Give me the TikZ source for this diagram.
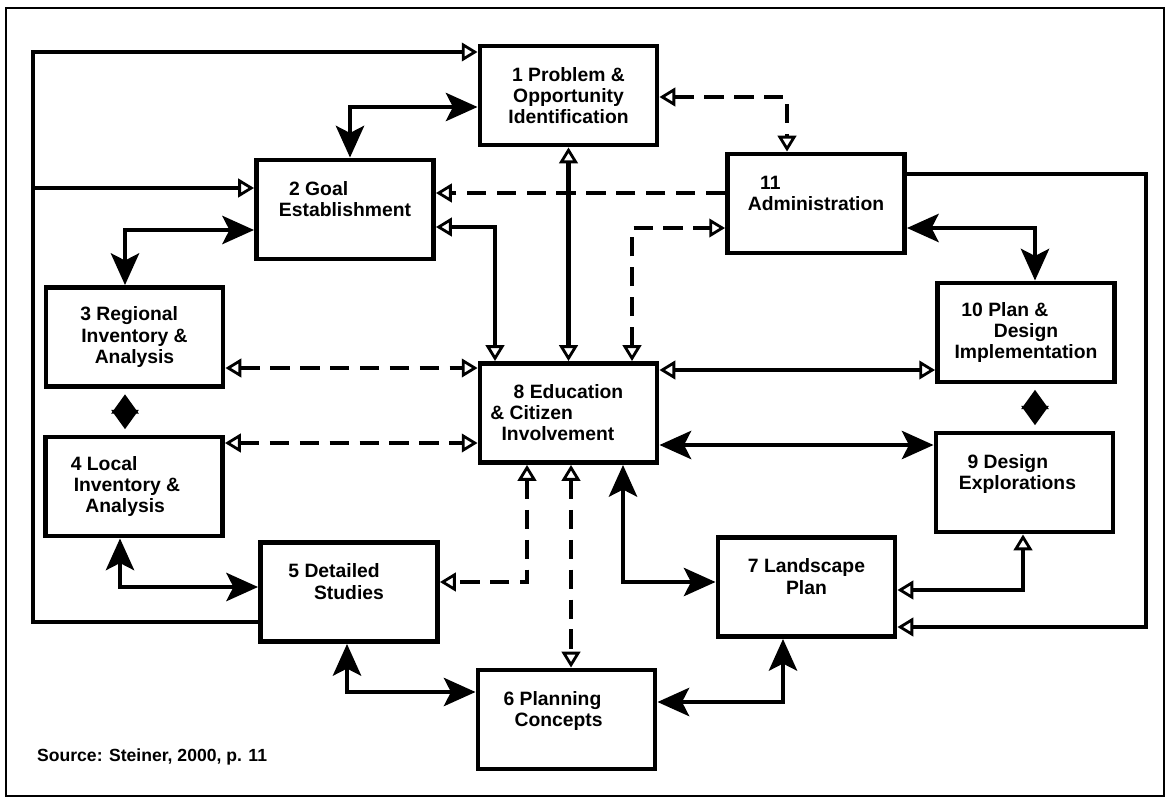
\documentclass[tikz,border=0pt]{standalone}
\usepackage{fontspec}
\setmainfont{Liberation Sans}
\usepackage{tikz}
\usetikzlibrary{arrows.meta}

\newcommand{\lline}[2]{\hbox{#2\hskip #1}}

\tikzset{
  Hol/.tip={Triangle[open, length=9pt, width=10.5pt, line width=1.6pt]},
  Fat/.tip={Stealth[length=18pt, width=16pt, inset=4pt]},
  Dia/.tip={Triangle[length=11pt, width=15pt]}
}

\begin{document}
\begin{tikzpicture}[x=0.02cm, y=-0.02cm,
  stage/.style={draw, line width=2.8pt, minimum width=3.54cm, minimum height=1.98cm,
    inner sep=0pt, align=center, font=\fontsize{11}{12}\selectfont\bfseries},
  link/.style={line width=2.6pt},
  hollow both/.style={link, Hol-Hol},
  heavy both/.style={link, Fat-Fat},
  dashed both/.style={link, dash pattern=on 11pt off 6pt, Hol-Hol},
  diam/.style={link, Dia-Dia, shorten <=3pt, shorten >=3pt}]
  \useasboundingbox (0,0) rectangle (1169,801);
  \draw [line width=1.6pt] (6,8) rectangle (1164,796);

  % Stages
  \node[stage] (b1) at (568.5,95.5) {1 Problem \&\\Opportunity\\Identification};
  \node[stage] (b2) at (345,209.5) {\lline{30pt}{2 Goal}\\Establishment\\ \mbox{}};
  \node[stage] (b11) at (816,203.5) {\lline{52pt}{11}\\Administration\\ \mbox{}};
  \node[stage] (b3) at (134.5,337) {\lline{6pt}{3 Regional}\\Inventory \&\\Analysis};
  \node[stage] (b4) at (134,486.5) {\lline{34pt}{4 Local}\\\lline{8pt}{Inventory \&}\\\lline{10pt}{Analysis}};
  \node[stage] (b8) at (568.5,413) {8 Education\\\lline{42pt}{\& Citizen}\\\lline{12pt}{Involvement}};
  \node[stage] (b10) at (1026,332.5) {\lline{24pt}{10 Plan \&}\\Design\\Implementation};
  \node[stage] (b9) at (1024.5,482.5) {\lline{19pt}{9 Design}\\\lline{8pt}{Explorations}\\ \mbox{}};
  \node[stage] (b5) at (349,592) {\lline{17pt}{5 Detailed}\\Studies\\ \mbox{}};
  \node[stage] (b7) at (806.5,587) {7 Landscape\\Plan\\ \mbox{}};
  \node[stage] (b6) at (566.5,719.5) {\lline{16pt}{6 Planning}\\\lline{9pt}{Concepts}\\ \mbox{}};

  \node[anchor=west, font=\fontsize{10}{12}\selectfont\bfseries] (src) at (31,757) {Source: Steiner, 2000, p. 11};

  % Left loop
  \coordinate (w1) at (33,622);
  \coordinate (w2) at (33,52);
  \coordinate (w3) at (33,188);
  \draw [link, -Hol] (b5.west |- w1) -- (w1) -- (w2) -- (b1.west |- w2);
  \draw [link, -Hol] (w3) -- (b2.west |- w3);

  % Top
  \coordinate (k12) at (350,107);
  \coordinate (k23) at (125,230);
  \coordinate (k112) at (0,193);
  \coordinate (k28) at (495,227);
  \coordinate (k811) at (632,228);
  \coordinate (k111) at (787,97);
  \draw [heavy both] (b2.north -| k12) |- (b1.west |- k12);
  \draw [heavy both] (b3.north -| k23) |- (b2.west |- k23);
  \draw [link, dash pattern=on 11pt off 6pt, -Hol] (b11.west |- k112) -- (b2.east |- k112);
  \draw [hollow both] (b2.east |- k28) -| (b8.north -| k28);
  \draw [hollow both] (b1.south) -- (b8.north);
  \draw [dashed both] (b8.north -| k811) |- (b11.west |- k811);
  \draw [dashed both] (b1.east |- k111) -| (b11.north -| k111);

  % Right loop
  \coordinate (k1110) at (1035,228);
  \coordinate (r1) at (1146,174);
  \coordinate (r2) at (1146,627);
  \draw [heavy both] (b11.east |- k1110) -| (b10.north -| k1110);
  \draw [link, -Hol] (b11.east |- r1) -- (r1) -- (r2) -- (b7.east |- r2);
  \draw [diam] (b10.south -| k1110) -- (b9.north -| k1110);

  % Middle
  \coordinate (k38) at (0,368);
  \coordinate (k48) at (0,443);
  \coordinate (k34) at (125,0);
  \coordinate (k810) at (0,370);
  \coordinate (k89) at (0,445);
  \draw [dashed both] (b3.east |- k38) -- (b8.west |- k38);
  \draw [dashed both] (b4.east |- k48) -- (b8.west |- k48);
  \draw [diam] (b3.south -| k34) -- (b4.north -| k34);
  \draw [hollow both] (b8.east |- k810) -- (b10.west |- k810);
  \draw [heavy both] (b8.east |- k89) -- (b9.west |- k89);

  % Bottom
  \coordinate (k87) at (623,582);
  \coordinate (k85) at (527,582);
  \coordinate (k86) at (571,0);
  \coordinate (k45) at (120,587);
  \coordinate (k56) at (347,692);
  \coordinate (k67) at (783,702);
  \coordinate (k97) at (1023,590);
  \draw [heavy both] (b8.south -| k87) |- (b7.west |- k87);
  \draw [dashed both] (b8.south -| k85) |- (b5.east |- k85);
  \draw [dashed both] (b8.south -| k86) -- (b6.north -| k86);
  \draw [heavy both] (b4.south -| k45) |- (b5.west |- k45);
  \draw [heavy both] (b5.south -| k56) |- (b6.west |- k56);
  \draw [heavy both] (b6.east |- k67) -| (b7.south -| k67);
  \draw [hollow both] (b9.south -| k97) |- (b7.east |- k97);

\end{tikzpicture}
\end{document}
